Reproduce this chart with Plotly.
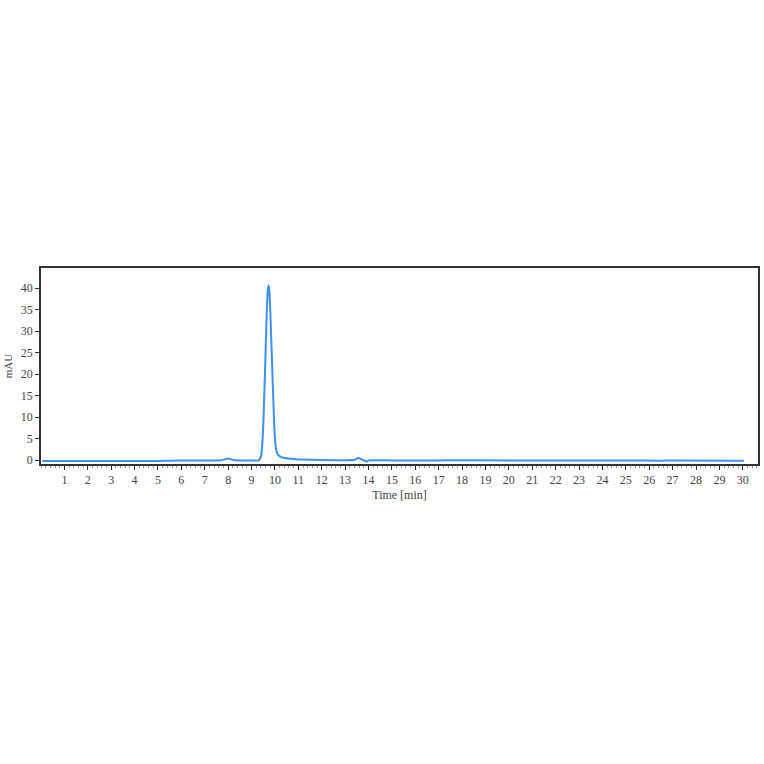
import plotly.graph_objects as go

# Chromatogram trace.
time_min = [0.05, 1, 2, 3, 4, 5, 5.6, 6, 7, 7.7, 7.9, 8.0, 8.1, 8.3, 9.0, 9.3,
            9.4, 9.45, 9.5, 9.55, 9.6, 9.65, 9.7, 9.73, 9.76, 9.8, 9.85, 9.9,
            9.95, 10.0, 10.05, 10.1, 10.2, 10.3, 10.5, 10.8, 11.2, 12, 13,
            13.4, 13.55, 13.65, 13.8, 13.9, 14.0, 15, 17, 17.5, 20, 25, 26.5,
            27, 30.05]
mau = [-0.25, -0.25, -0.25, -0.25, -0.25, -0.22, -0.15, -0.1, -0.1, -0.05,
       0.25, 0.35, 0.2, -0.05, -0.1, -0.1,
       0.8, 3.0, 8.0, 16.0, 25.0, 34.0, 39.8, 40.5, 39.5, 35.0, 27.0, 19.0,
       11.0, 5.0, 2.5, 1.5, 0.9, 0.6, 0.4, 0.25, 0.1, 0.0, -0.05,
       0.05, 0.45, 0.3, -0.1, -0.35, -0.1, -0.1, -0.1, -0.05, -0.1, -0.1, -0.15,
       -0.1, -0.15]

x_ticks = list(range(1, 31))
y_ticks = [0, 5, 10, 15, 20, 25, 30, 35, 40]

fig = go.Figure()
fig.add_trace(go.Scatter(x=time_min, y=mau, mode="lines",
                         line=dict(color="#3d8ff0", width=2, shape="spline", smoothing=0.6),
                         showlegend=False))

axis_font = dict(family="Liberation Serif, DejaVu Serif, serif", size=12, color="#444444")

fig.update_layout(
    width=764, height=764,
    margin=dict(l=41, r=4, t=268, b=300),
    paper_bgcolor="white", plot_bgcolor="white",
    font=axis_font,
    xaxis=dict(
        range=[0, 30.65], tickvals=x_ticks, ticks="outside", ticklen=4,
        tickcolor="#333333", showgrid=False, zeroline=False,
        showline=True, linecolor="#333333", linewidth=1.5, mirror=True,
        minor=dict(ticks="outside", ticklen=2, dtick=0.2, tickcolor="#999999", showgrid=False),
        title=dict(text="Time [min]", font=dict(size=12), standoff=4),
        tickfont=dict(size=12),
    ),
    yaxis=dict(
        range=[-0.93, 44.65], tickvals=y_ticks, ticks="outside", ticklen=4,
        tickcolor="#333333", showgrid=False, zeroline=False,
        showline=True, linecolor="#333333", linewidth=1.5, mirror=True,
        title=dict(text="mAU", font=dict(size=11), standoff=6),
        tickfont=dict(size=12),
    ),
)

# Drop the page margin so the figure sits at the window's corner.
fig.write_html("out.html", config={"displayModeBar": False},
               post_script="document.body.style.margin='0';")
